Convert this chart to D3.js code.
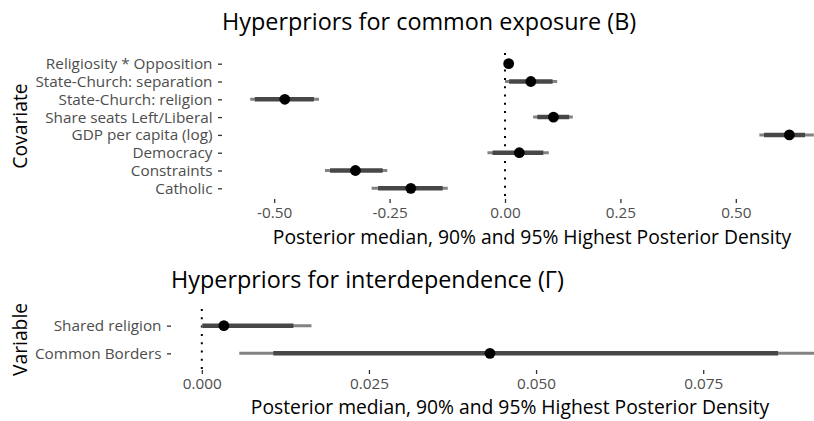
<!DOCTYPE html>
<html>
<head>
<meta charset="utf-8">
<script src="https://cdn.jsdelivr.net/npm/d3@7"></script>
<style>
  body { margin: 0; background: #fff; }
  svg { display: block; font-family: "Open Sans", "Noto Sans", sans-serif; }
</style>
</head>
<body>
<svg width="814" height="421"></svg>
<script>
// Covariates (top panel), listed top to bottom
const covariates = [
  "Religiosity * Opposition",
  "State-Church: separation",
  "State-Church: religion",
  "Share seats Left/Liberal",
  "GDP per capita (log)",
  "Democracy",
  "Constraints",
  "Catholic"
];
const covMedian = [0.008, 0.056, -0.477, 0.105, 0.616, 0.031, -0.324, -0.204];
const covLo95 = [0.002, 0.000, -0.552, 0.061, 0.551, -0.038, -0.390, -0.289];
const covHi95 = [0.014, 0.113, -0.403, 0.147, 0.669, 0.095, -0.255, -0.124];
const covLo90 = [0.004, 0.009, -0.542, 0.070, 0.561, -0.027, -0.379, -0.275];
const covHi90 = [0.012, 0.103, -0.414, 0.139, 0.650, 0.083, -0.265, -0.135];
const covTicks = [-0.5, -0.25, 0, 0.25, 0.5];

// Variables (bottom panel)
const variables = ["Shared religion", "Common Borders"];
const varMedian = [0.0033, 0.0431];
const varLo95 = [0.0000, 0.0056];
const varHi95 = [0.0164, 0.0922];
const varLo90 = [0.0001, 0.0107];
const varHi90 = [0.0137, 0.0862];
const varTicks = [0, 0.025, 0.05, 0.075];

const svg = d3.select("svg");

// ggplot-like 5% expansion
function expanded(lo, hi) {
  const min = d3.min(lo), max = d3.max(hi);
  const pad = (max - min) * 0.05;
  return [min - pad, max + pad];
}

function drawPanel(opts) {
  const rows = opts.labels.map((label, i) => ({
    label,
    med: opts.med[i], lo95: opts.lo95[i], hi95: opts.hi95[i],
    lo90: opts.lo90[i], hi90: opts.hi90[i]
  }));

  const x = d3.scaleLinear()
    .domain(expanded(opts.lo95, opts.hi95))
    .range([opts.left, opts.right]);

  const y = d3.scalePoint()
    .domain(opts.labels)
    .range([opts.top, opts.bottom])
    .padding(0.6);

  const g = svg.append("g");

  // title, left aligned on the panel
  g.append("text")
    .attr("x", opts.left)
    .attr("y", opts.titleY)
    .attr("font-size", 23.4)
    .attr("fill", "#000")
    .text(opts.title);

  // zero reference line
  g.append("line")
    .attr("x1", x(0)).attr("x2", x(0))
    .attr("y1", opts.top).attr("y2", opts.bottom)
    .attr("stroke", "#000")
    .attr("stroke-width", 2)
    .attr("stroke-dasharray", "2 6.3");

  // 95% intervals
  g.selectAll(".hpd95")
    .data(rows)
    .enter()
    .append("line")
    .attr("x1", (d) => x(d.lo95))
    .attr("x2", (d) => x(d.hi95))
    .attr("y1", (d) => y(d.label))
    .attr("y2", (d) => y(d.label))
    .attr("stroke", "#838383")
    .attr("stroke-width", 3);

  // 90% intervals
  g.selectAll(".hpd90")
    .data(rows)
    .enter()
    .append("line")
    .attr("x1", (d) => x(d.lo90))
    .attr("x2", (d) => x(d.hi90))
    .attr("y1", (d) => y(d.label))
    .attr("y2", (d) => y(d.label))
    .attr("stroke", "#474747")
    .attr("stroke-width", 4.5);

  // medians
  g.selectAll("circle")
    .data(rows)
    .enter()
    .append("circle")
    .attr("cx", (d) => x(d.med))
    .attr("cy", (d) => y(d.label))
    .attr("r", 5.4)
    .attr("fill", "#000");

  // x axis
  const xAxis = g.append("g")
    .attr("transform", `translate(0, ${opts.bottom})`)
    .call(d3.axisBottom(x).tickValues(opts.ticks)
      .tickFormat(d3.format(opts.fmt)).tickSize(4).tickPadding(4.6));

  // y axis
  const yAxis = g.append("g")
    .attr("transform", `translate(${opts.left}, 0)`)
    .call(d3.axisLeft(y).tickSize(4).tickPadding(5.5));

  [xAxis, yAxis].forEach((ax) => {
    ax.select(".domain").remove();
    ax.selectAll(".tick line").attr("stroke", "#333").attr("stroke-width", 1.3);
    ax.selectAll(".tick text")
      .attr("fill", "#4d4d4d")
      .attr("font-size", 15.3)
      .attr("font-family", "Open Sans, Noto Sans, sans-serif");
  });
  // ggplot uses a plain hyphen for negatives
  xAxis.selectAll(".tick text").text((d) => d3.format(opts.fmt)(d).replace("\u2212", "-"));

  // axis titles
  g.append("text")
    .attr("x", (opts.left + opts.right) / 2)
    .attr("y", opts.xTitleY)
    .attr("text-anchor", "middle")
    .attr("font-size", 19.3)
    .attr("fill", "#000")
    .text("Posterior median, 90% and 95% Highest Posterior Density");

  g.append("text")
    .attr("transform", `translate(27, ${(opts.top + opts.bottom) / 2}) rotate(-90)`)
    .attr("text-anchor", "middle")
    .attr("font-size", 19.3)
    .attr("fill", "#000")
    .text(opts.yTitle);
}

drawPanel({
  title: "Hyperpriors for common exposure (B)",
  yTitle: "Covariate",
  labels: covariates,
  med: covMedian, lo95: covLo95, hi95: covHi95, lo90: covLo90, hi90: covHi90,
  ticks: covTicks, fmt: ".2f",
  left: 222, right: 842, top: 53, bottom: 199,
  titleY: 29.5, xTitleY: 244
});

drawPanel({
  title: "Hyperpriors for interdependence (\u0393)",
  yTitle: "Variable",
  labels: variables,
  med: varMedian, lo95: varLo95, hi95: varHi95, lo90: varLo90, hi90: varHi90,
  ticks: varTicks, fmt: ".3f",
  left: 171, right: 849, top: 309, bottom: 370,
  titleY: 288, xTitleY: 414
});
</script>
</body>
</html>
